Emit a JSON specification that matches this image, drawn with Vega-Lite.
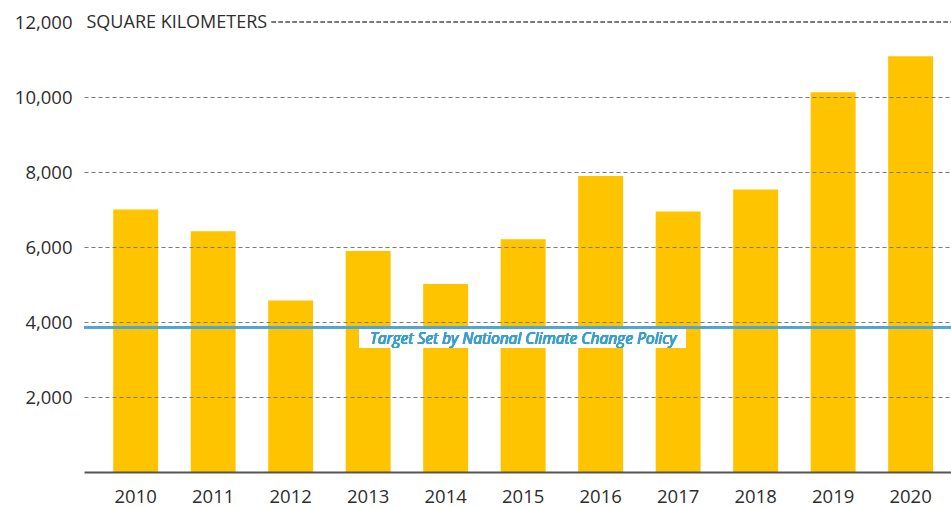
{
  "$schema": "https://vega.github.io/schema/vega-lite/v6.json",
  "width": 867,
  "height": 450,
  "autosize": "none",
  "padding": {"left": 84, "top": 22, "right": 0, "bottom": 35},
  "background": "white",
  "config": {
    "view": {"stroke": null},
    "font": "Open Sans"
  },
  "data": {
    "values": [
      {"year": "2010", "area": 7000},
      {"year": "2011", "area": 6418},
      {"year": "2012", "area": 4571},
      {"year": "2013", "area": 5891},
      {"year": "2014", "area": 5012},
      {"year": "2015", "area": 6207},
      {"year": "2016", "area": 7893},
      {"year": "2017", "area": 6947},
      {"year": "2018", "area": 7536},
      {"year": "2019", "area": 10129},
      {"year": "2020", "area": 11088}
    ]
  },
  "encoding": {
    "x": {
      "field": "year",
      "type": "ordinal",
      "scale": {"paddingInner": 0.42, "paddingOuter": 0.304, "align": 0.62},
      "axis": {
        "title": null,
        "labelAngle": 0,
        "labelFont": "Open Sans",
        "labelFontSize": 18.5,
        "labelFontWeight": 500,
        "labelColor": "#2e2e2e",
        "labelPadding": 15,
        "ticks": false,
        "domain": true,
        "domainColor": "#555555",
        "domainWidth": 2,
        "grid": false,
        "zindex": 2
      }
    }
  },
  "layer": [
    {
      "mark": {"type": "bar", "color": "#FFC400"},
      "encoding": {
        "y": {
          "field": "area",
          "type": "quantitative",
          "scale": {"domain": [0, 12000], "nice": false},
          "axis": {
            "values": [2000, 4000, 6000, 8000, 10000, 12000],
            "format": ",d",
            "title": "SQUARE KILOMETERS",
            "titleAngle": 0,
            "titleX": 2,
            "titleY": 0,
            "titleAlign": "left",
            "titleBaseline": "middle",
            "titleFont": "Open Sans",
            "titleFontSize": 18,
            "titleFontWeight": 500,
            "titleColor": "#2e2e2e",
            "labelFont": "Open Sans",
            "labelFontSize": 18.5,
            "labelFontWeight": 500,
            "labelColor": "#2e2e2e",
            "labelPadding": 12,
            "ticks": false,
            "domain": false,
            "grid": true,
            "gridColor": "#7a7a7a",
            "gridDash": [4, 3],
            "gridWidth": 1.2,
            "gridOpacity": {"condition": {"test": "datum.value >= 12000", "value": 0}, "value": 1},
            "zindex": 1
          }
        }
      }
    },
    {
      "mark": {"type": "rule", "color": "#7a7a7a", "strokeDash": [4, 3], "strokeWidth": 1.2},
      "encoding": {
        "x": {"datum": "2012", "bandPosition": 0.08},
        "x2": {"value": "width"},
        "y": {"datum": 12000}
      }
    },
    {
      "mark": {"type": "rect", "color": "white"},
      "encoding": {
        "x": {"datum": "2013", "bandPosition": 0.31},
        "x2": {"datum": "2017", "bandPosition": 0.67},
        "y": {"datum": 3800},
        "y2": {"datum": 3320}
      }
    },
    {
      "mark": {"type": "rule", "color": "#4ea6d4", "strokeWidth": 2.2},
      "encoding": {
        "x": {"value": 0},
        "x2": {"value": "width"},
        "y": {"datum": 3860}
      }
    },
    {
      "mark": {
        "type": "text",
        "text": "Target Set by National Climate Change Policy",
        "font": "Open Sans",
        "fontSize": 15.5,
        "fontStyle": "italic",
        "fontWeight": 500,
        "color": "#3a9fcb",
        "align": "center",
        "baseline": "middle"
      },
      "encoding": {
        "x": {"datum": "2015", "bandPosition": 0.5},
        "y": {"datum": 3560}
      }
    }
  ]
}
